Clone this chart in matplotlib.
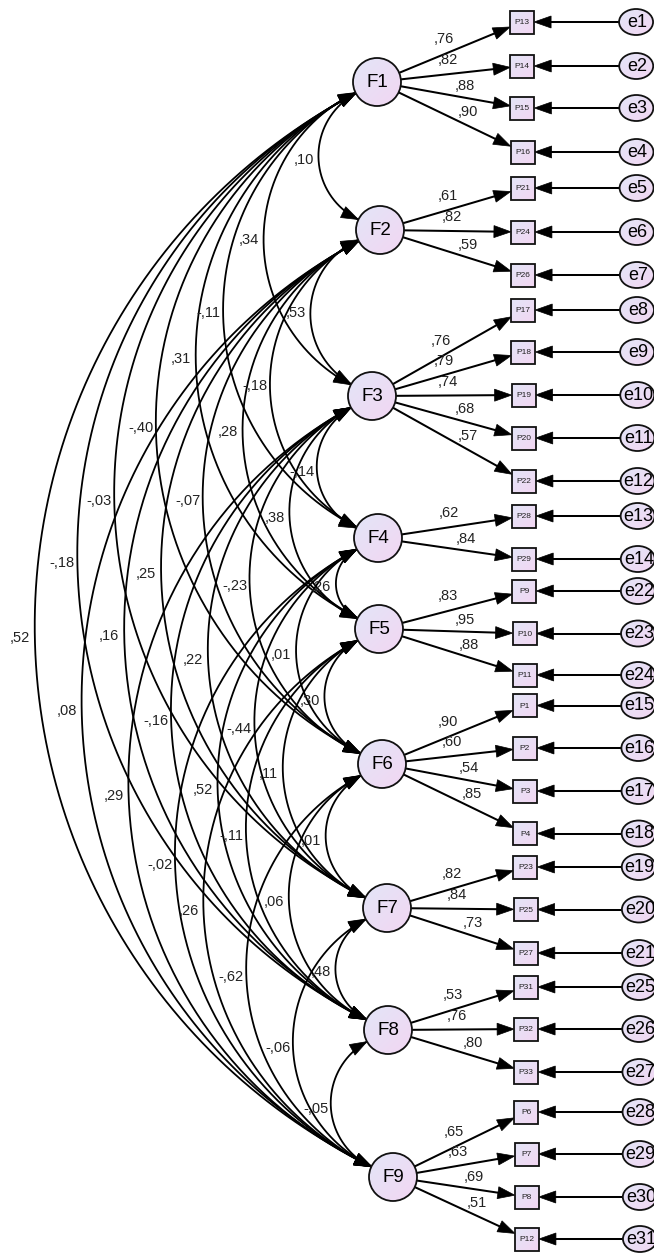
import numpy as np
import matplotlib
matplotlib.use("Agg")
import matplotlib.pyplot as plt
from matplotlib.patches import Ellipse, Rectangle, Polygon

# ---------------- data ----------------
factors = ["F1", "F2", "F3", "F4", "F5", "F6", "F7", "F8", "F9"]

indicators = ["P13", "P14", "P15", "P16", "P21", "P24", "P26",
              "P17", "P18", "P19", "P20", "P22", "P28", "P29",
              "P9", "P10", "P11", "P1", "P2", "P3", "P4",
              "P23", "P25", "P27", "P31", "P32", "P33",
              "P6", "P7", "P8", "P12"]
indicator_factor = ["F1", "F1", "F1", "F1", "F2", "F2", "F2",
                    "F3", "F3", "F3", "F3", "F3", "F4", "F4",
                    "F5", "F5", "F5", "F6", "F6", "F6", "F6",
                    "F7", "F7", "F7", "F8", "F8", "F8",
                    "F9", "F9", "F9", "F9"]
loadings = [0.76, 0.82, 0.88, 0.90, 0.61, 0.82, 0.59,
            0.76, 0.79, 0.74, 0.68, 0.57, 0.62, 0.84,
            0.83, 0.95, 0.88, 0.90, 0.60, 0.54, 0.85,
            0.82, 0.84, 0.73, 0.53, 0.76, 0.80,
            0.65, 0.63, 0.69, 0.51]
errors = ["e1", "e2", "e3", "e4", "e5", "e6", "e7",
          "e8", "e9", "e10", "e11", "e12", "e13", "e14",
          "e22", "e23", "e24", "e15", "e16", "e17", "e18",
          "e19", "e20", "e21", "e25", "e26", "e27",
          "e28", "e29", "e30", "e31"]

cov_from = ["F1"] * 8 + ["F2"] * 7 + ["F3"] * 6 + ["F4"] * 5 + ["F5"] * 4 + ["F6"] * 3 + ["F7"] * 2 + ["F8"]
cov_to = (["F2", "F3", "F4", "F5", "F6", "F7", "F8", "F9"] +
          ["F3", "F4", "F5", "F6", "F7", "F8", "F9"] +
          ["F4", "F5", "F6", "F7", "F8", "F9"] +
          ["F5", "F6", "F7", "F8", "F9"] +
          ["F6", "F7", "F8", "F9"] +
          ["F7", "F8", "F9"] +
          ["F8", "F9"] +
          ["F9"])
cov_values = [0.10, 0.34, -0.11, 0.31, -0.40, -0.03, -0.18, 0.52,
              0.53, -0.18, 0.28, -0.07, 0.25, 0.16, 0.08,
              -0.14, 0.38, -0.23, 0.22, -0.16, 0.29,
              0.26, 0.01, -0.44, 0.52, -0.02,
              0.30, 0.11, -0.11, 0.26,
              0.01, 0.06, -0.62,
              0.48, -0.06,
              -0.05]

# ---------------- layout (pixel units, y down) ----------------
factor_xy = {"F1": (377, 82), "F2": (380, 230), "F3": (372, 396),
             "F4": (378, 538), "F5": (379, 629), "F6": (382, 764),
             "F7": (387, 908), "F8": (388, 1030), "F9": (393, 1177)}
indicator_y = [22, 66, 108, 152, 188, 232, 275,
               310, 352, 395, 438, 481, 516, 559,
               591, 633.5, 675, 705.5, 748, 791, 833.5,
               867, 909.5, 953, 987, 1029, 1072,
               1112, 1154, 1197, 1239]

W, H = 654, 1253
R_F = 24
BOX_W, BOX_H = 24, 23
E_W, E_H = 34, 26
BETA = np.deg2rad(63)
AL, AW = 17, 6.0   # arrowhead length / half-width
FONT = "Liberation Sans"
LW = 1.45

C1 = np.array([0.89, 0.90, 0.97])
C2 = np.array([0.95, 0.84, 0.95])

fig = plt.figure(figsize=(W / 100, H / 100), dpi=100)
ax = fig.add_axes([0, 0, 1, 1])
ax.set_xlim(0, W)
ax.set_ylim(H, 0)
ax.axis("off")


def fmt(v):
    s = f"{v:.2f}"
    return s.replace("0.", ",")


def grad_patch(patch, x0, x1, y0, y1, z=3):
    patch.set_facecolor("none")
    patch.set_edgecolor("#111111")
    patch.set_linewidth(1.3)
    patch.set_zorder(z + 0.1)
    ax.add_patch(patch)
    n = 48
    g = np.linspace(0, 1, n)
    t = (g[None, :] + g[:, None]) / 2
    img = C1[None, None, :] * (1 - t)[..., None] + C2[None, None, :] * t[..., None]
    im = ax.imshow(img, extent=(x0, x1, y1, y0), origin="upper", zorder=z,
                   interpolation="bilinear")
    im.set_clip_path(patch)


def arrowhead(tip, direction, z=2.5):
    d = np.asarray(direction, float)
    d = d / np.linalg.norm(d)
    p = np.array([-d[1], d[0]])
    tip = np.asarray(tip, float)
    base = tip - d * AL
    poly = Polygon([tip, base + p * AW, base - p * AW], closed=True,
                   facecolor="black", edgecolor="black", lw=0.5, zorder=z)
    ax.add_patch(poly)
    return base


def rot(v, a):
    return np.array([v[0] * np.cos(a) - v[1] * np.sin(a),
                     v[0] * np.sin(a) + v[1] * np.cos(a)])


# ---------------- covariance arcs ----------------
for fa, fb, val in zip(cov_from, cov_to, cov_values):
    cA = np.array(factor_xy[fa], float)
    cB = np.array(factor_xy[fb], float)
    u = (cB - cA) / np.linalg.norm(cB - cA)
    dA = rot(u, BETA)
    dB = rot(-u, -BETA)
    pA = cA + R_F * dA
    pB = cB + R_F * dB
    w = pB - pA
    c = np.linalg.norm(w)
    wn = w / c
    n = rot(wn, np.pi / 2)
    m = (pA + pB) / 2
    s = (c / 2) * np.tan(BETA / 2)
    Rr = c / (2 * np.sin(BETA))
    O = m + n * (s - Rr)
    th0 = np.arctan2(n[1], n[0])
    phi = np.linspace(-BETA, BETA, 240)
    xs = O[0] + Rr * np.cos(th0 + phi)
    ys = O[1] + Rr * np.sin(th0 + phi)
    ax.plot(xs, ys, color="black", lw=1.3, zorder=1, solid_capstyle="butt")
    arrowhead(pA, -dA, z=1.5)
    arrowhead(pB, -dB, z=1.5)
    apex = m + n * s
    ax.text(apex[0] - 15, apex[1] + 3, fmt(val), fontsize=10.5, family=FONT,
            color="#222222", ha="center", va="center", zorder=4)

# ---------------- indicators, errors, loadings ----------------
for i, (name, fac, lam, err) in enumerate(zip(indicators, indicator_factor, loadings, errors)):
    y = indicator_y[i]
    bx = 522 + 5 * y / H
    ex = 636 + 4 * y / H
    # box
    rect = Rectangle((bx - BOX_W / 2, y - BOX_H / 2), BOX_W, BOX_H)
    grad_patch(rect, bx - BOX_W / 2, bx + BOX_W / 2, y - BOX_H / 2, y + BOX_H / 2)
    ax.text(bx, y + 0.5, name, fontsize=6, family=FONT, ha="center", va="center",
            color="#222222", zorder=4)
    # error ellipse
    ell = Ellipse((ex, y), E_W, E_H)
    grad_patch(ell, ex - E_W / 2, ex + E_W / 2, y - E_H / 2, y + E_H / 2)
    ax.text(ex + 1, y + 0.5, err, fontsize=13, family=FONT, ha="center", va="center", zorder=4)
    # error arrow
    tip = np.array([bx + BOX_W / 2, y])
    base = arrowhead(tip, (-1, 0))
    ax.plot([ex - E_W / 2, base[0]], [y, y], color="black", lw=LW, zorder=2)
    # loading arrow
    cF = np.array(factor_xy[fac], float)
    bc = np.array([bx, y])
    d = bc - cF
    L = np.linalg.norm(d)
    uu = d / L
    k = min((BOX_W / 2) / abs(d[0]), (BOX_H / 2) / abs(d[1]) if abs(d[1]) > 1e-9 else np.inf)
    tip = bc - d * k
    base = arrowhead(tip, uu)
    start = cF + uu * R_F
    ax.plot([start[0], base[0]], [start[1], base[1]], color="black", lw=LW, zorder=2)
    # loading label
    perp = np.array([uu[1], -uu[0]])
    if d[1] < 3:
        t, off = 0.5, 14
    else:
        t, off = 0.59, 12
    lp = cF + d * t + perp * off
    ax.text(lp[0], lp[1], fmt(lam), fontsize=10.5, family=FONT, ha="center", va="center",
            color="#222222", zorder=4)

# ---------------- factors ----------------
for f in factors:
    x, y = factor_xy[f]
    circ = Ellipse((x, y), 2 * R_F, 2 * R_F)
    grad_patch(circ, x - R_F, x + R_F, y - R_F, y + R_F, z=3)
    ax.text(x, y + 0.5, f, fontsize=13.5, family=FONT, ha="center", va="center", zorder=4)

ax.set_xlim(0, W)
ax.set_ylim(H, 0)
ax.set_aspect("auto")
fig.savefig("out.png", dpi=100)
